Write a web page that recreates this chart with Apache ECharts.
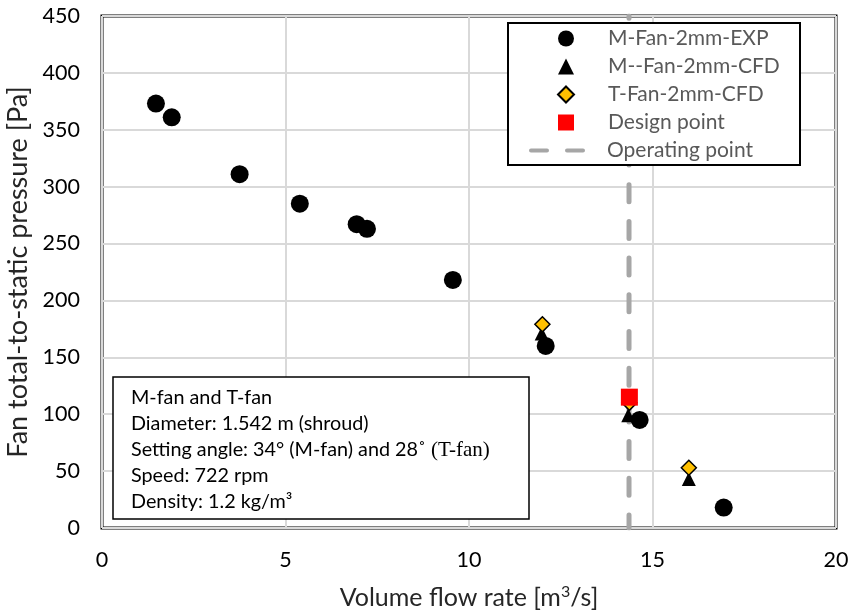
<!DOCTYPE html>
<html>
<head>
<meta charset="utf-8">
<script src="https://cdn.jsdelivr.net/npm/echarts@6/dist/echarts.min.js"></script>
<style>
  html, body { margin: 0; padding: 0; background: #fff; }
  #chart { width: 852px; height: 614px; }
</style>
</head>
<body>
<div id="chart"></div>
<script>
// Measured fan curve (experiment)
const flowExp = [1.47, 1.90, 3.75, 5.39, 6.94, 7.22, 9.56, 12.09, 14.65, 16.94];
const pressExp = [373, 361, 311, 285, 267, 263, 218, 160, 95, 18];

// CFD, M-fan
const flowCfdM = [11.98, 14.34, 15.99];
const pressCfdM = [171, 99, 43];

// CFD, T-fan
const flowCfdT = [12.0, 14.37, 15.99];
const pressCfdT = [179, 110, 53];

// Design point
const flowDesign = [14.37];
const pressDesign = [115];

// Operating point (vertical marker line)
const flowOperating = 14.36;
const pressRange = [0, 450];

const xTicks = [0, 5, 10, 15, 20];
const yTicks = [0, 50, 100, 150, 200, 250, 300, 350, 400, 450];

const seriesNames = ['M-Fan-2mm-EXP', 'M--Fan-2mm-CFD', 'T-Fan-2mm-CFD', 'Design point', 'Operating point'];

const infoLines = [
  'M-fan and T-fan',
  'Diameter: 1.542 m (shroud)',
  'Setting angle: 34° (M-fan) and 28˚ {serif|(T-fan)}',
  'Speed: 722 rpm',
  'Density: 1.2 kg/m³'
];

const FONT = 'Lato, "Open Sans", sans-serif';
const pairs = (xs, ys) => xs.map((x, i) => [x, ys[i]]);

const chart = echarts.init(document.getElementById('chart'), null, { renderer: 'canvas' });

chart.setOption({
  animation: false,
  backgroundColor: '#fff',
  textStyle: { fontFamily: FONT },
  grid: {
    left: 102, right: 16, top: 16, bottom: 86,
    containLabel: false, outerBoundsMode: 'none',
    show: true, borderColor: '#000', borderWidth: 3, backgroundColor: 'transparent'
  },
  // frame behind the legend entries
  graphic: [{
    type: 'rect', z: 5,
    shape: { x: 508, y: 23, width: 292, height: 142 },
    style: { fill: '#fff', stroke: '#000', lineWidth: 2 }
  }],
  title: {
    text: infoLines.join('\n'),
    left: 113, top: 377,
    padding: [8, 40, 4, 18],
    backgroundColor: '#fff',
    borderColor: '#000',
    borderWidth: 1.5,
    z: 3,
    textStyle: {
      fontFamily: FONT, fontSize: 19.8, fontWeight: 'normal', color: '#000', lineHeight: 26,
      rich: {
        serif: { fontFamily: '"Liberation Serif", "DejaVu Serif", serif', fontSize: 21, color: '#000', lineHeight: 26 }
      }
    }
  },
  legend: [{
    data: [
      { name: seriesNames[0], icon: 'circle' },
      { name: seriesNames[1], icon: 'triangle' },
      { name: seriesNames[2], icon: 'diamond' },
      { name: seriesNames[3], icon: 'rect' }
    ],
    orient: 'vertical',
    left: 557, top: 28, padding: 0, z: 6,
    itemWidth: 16, itemHeight: 16, itemGap: 7,
    textStyle: { fontFamily: FONT, fontSize: 21, color: '#595959', padding: [0, 0, 0, 29] }
  }, {
    data: [{ name: seriesNames[4], icon: 'path://M2,0h16a2,2 0 0 1 0,4h-16a2,2 0 0 1 0,-4zM38,0h16a2,2 0 0 1 0,4h-16a2,2 0 0 1 0,-4z' }],
    orient: 'vertical',
    left: 529, top: 140, padding: 0, z: 6,
    itemWidth: 56, itemHeight: 4,
    textStyle: { fontFamily: FONT, fontSize: 21, color: '#595959', padding: [0, 0, 0, 17] }
  }],
  xAxis: {
    type: 'value',
    min: xTicks[0], max: xTicks[xTicks.length - 1], interval: 5,
    axisLine: { show: false }, axisTick: { show: false },
    splitLine: { lineStyle: { color: '#d9d9d9', width: 2 } },
    axisLabel: { fontFamily: FONT, fontSize: 21.5, color: '#000', margin: 21 },
    name: 'Volume flow rate [m{sup|3}/s]',
    nameLocation: 'middle', nameGap: 56,
    nameTextStyle: {
      fontFamily: FONT, fontSize: 25, color: '#262626',
      rich: { sup: { fontFamily: FONT, fontSize: 16, color: '#262626', verticalAlign: 'top', padding: [0, 0, 12, 0] } }
    }
  },
  yAxis: {
    type: 'value',
    min: yTicks[0], max: yTicks[yTicks.length - 1], interval: 50,
    axisLine: { show: false }, axisTick: { show: false },
    splitLine: { lineStyle: { color: '#d9d9d9', width: 2 } },
    axisLabel: { fontFamily: FONT, fontSize: 21.5, color: '#000', margin: 22 },
    name: 'Fan total-to-static pressure [Pa]',
    nameLocation: 'middle', nameGap: 61,
    nameTextStyle: { fontFamily: FONT, fontSize: 27, color: '#262626' }
  },
  series: [
    {
      name: seriesNames[4], type: 'line', z: 1,
      data: pressRange.map(p => [flowOperating, p]),
      symbol: 'none', silent: true,
      lineStyle: { color: '#a6a6a6', width: 5, type: [17, 19.7], dashOffset: 4, cap: 'round' },
      itemStyle: { color: '#a6a6a6' }
    },
    {
      name: seriesNames[1], type: 'scatter', z: 2,
      data: pairs(flowCfdM, pressCfdM),
      symbol: 'triangle', symbolSize: 14,
      itemStyle: { color: '#000', opacity: 1 }
    },
    {
      name: seriesNames[0], type: 'scatter', z: 3,
      data: pairs(flowExp, pressExp),
      symbol: 'circle', symbolSize: 18,
      itemStyle: { color: '#000', opacity: 1 }
    },
    {
      name: seriesNames[2], type: 'scatter', z: 4,
      data: pairs(flowCfdT, pressCfdT),
      symbol: 'diamond', symbolSize: 15,
      itemStyle: { color: '#ffc000', borderColor: '#000', borderWidth: 1.5, opacity: 1 }
    },
    {
      name: seriesNames[3], type: 'scatter', z: 5,
      data: pairs(flowDesign, pressDesign),
      symbol: 'rect', symbolSize: 17,
      itemStyle: { color: '#ff0000', opacity: 1 }
    }
  ]
});
</script>
</body>
</html>
